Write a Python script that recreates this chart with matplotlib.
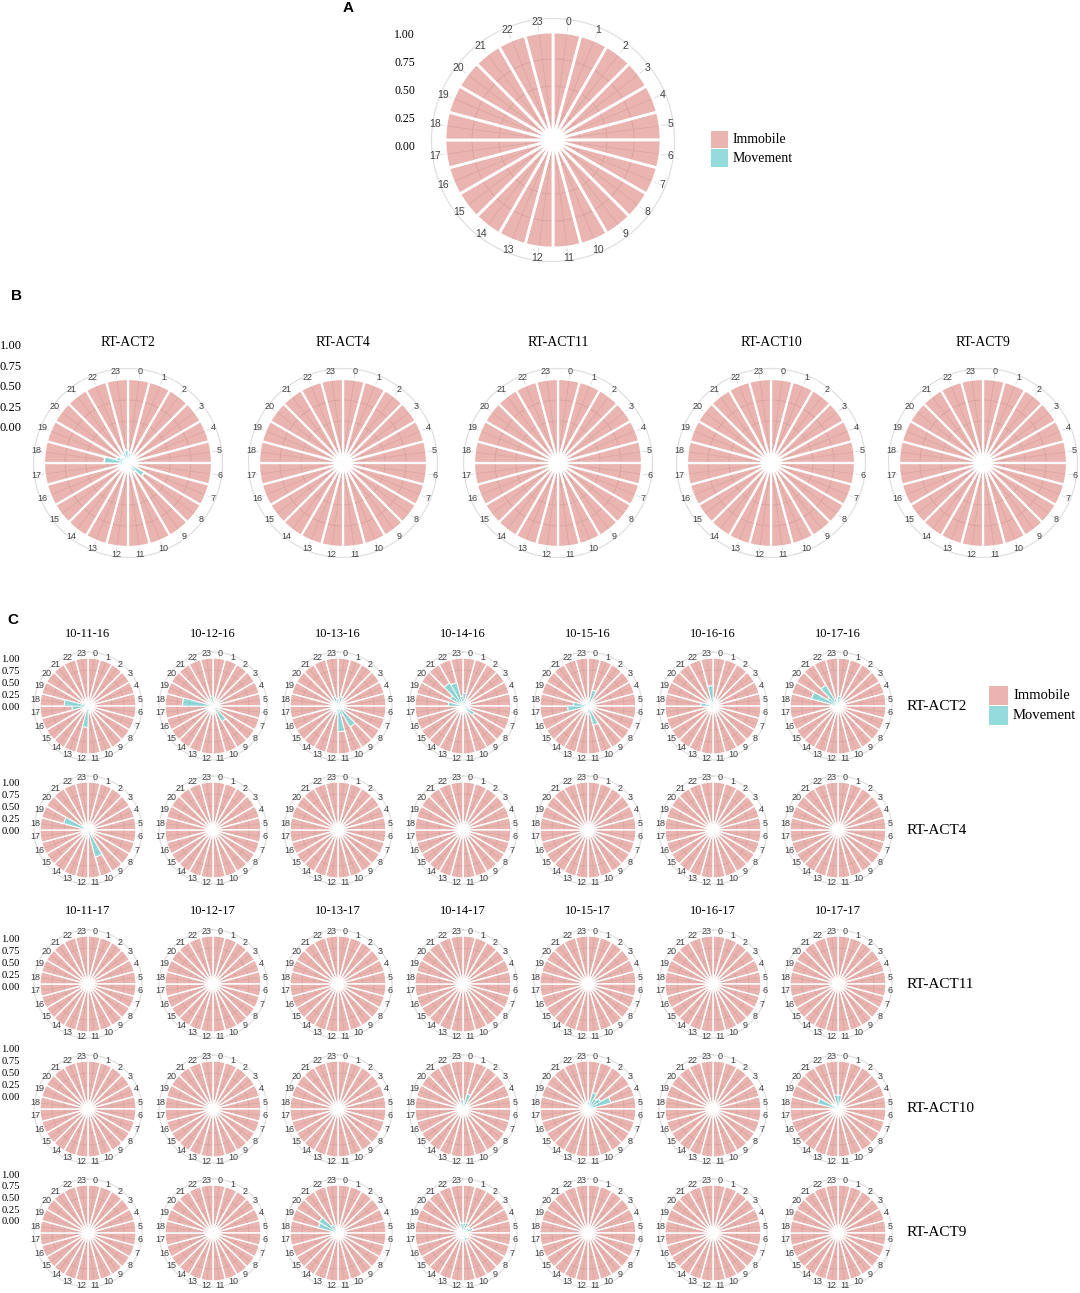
import numpy as np
import matplotlib
matplotlib.use("Agg")
import matplotlib.pyplot as plt
from matplotlib.patches import Rectangle

# ---- data: share of time in "Movement" per hour (Immobile = 1 - Movement)
hours = list(range(24))

all_move = [0.03, 0.02, 0.02, 0.01, 0.01, 0.01, 0.01, 0.02, 0.03, 0.03, 0.02, 0.02,
            0.02, 0.02, 0.02, 0.02, 0.02, 0.03, 0.04, 0.03, 0.03, 0.03, 0.03, 0.03]

b_names = ["RT-ACT2", "RT-ACT4", "RT-ACT11", "RT-ACT10", "RT-ACT9"]
b_act2 = [0.12, 0.08, 0.04, 0.03, 0.02, 0.02, 0.03, 0.05, 0.22, 0.12, 0.06, 0.05,
          0.04, 0.03, 0.03, 0.04, 0.05, 0.10, 0.28, 0.14, 0.10, 0.08, 0.12, 0.15]
b_act4 = [0.01, 0.01, 0.01, 0.00, 0.00, 0.00, 0.01, 0.01, 0.02, 0.06, 0.05, 0.02,
          0.01, 0.01, 0.01, 0.01, 0.01, 0.02, 0.03, 0.07, 0.05, 0.02, 0.01, 0.01]
b_act11 = [0.01, 0.00, 0.00, 0.00, 0.00, 0.00, 0.00, 0.00, 0.01, 0.01, 0.01, 0.00,
           0.00, 0.00, 0.00, 0.00, 0.00, 0.01, 0.01, 0.01, 0.01, 0.01, 0.01, 0.01]
b_act10 = [0.03, 0.03, 0.02, 0.02, 0.02, 0.01, 0.01, 0.01, 0.01, 0.01, 0.01, 0.01,
           0.01, 0.01, 0.01, 0.01, 0.01, 0.01, 0.02, 0.02, 0.02, 0.02, 0.02, 0.03]
b_act9 = [0.02, 0.02, 0.01, 0.01, 0.01, 0.01, 0.01, 0.01, 0.01, 0.02, 0.01, 0.01,
          0.01, 0.01, 0.01, 0.01, 0.01, 0.01, 0.02, 0.03, 0.03, 0.02, 0.02, 0.02]

dates_16 = ["10-11-16", "10-12-16", "10-13-16", "10-14-16", "10-15-16", "10-16-16", "10-17-16"]
dates_17 = ["10-11-17", "10-12-17", "10-13-17", "10-14-17", "10-15-17", "10-16-17", "10-17-17"]
c_rows = ["RT-ACT2", "RT-ACT4", "RT-ACT11", "RT-ACT10", "RT-ACT9"]

still = [0.00, 0.00, 0.00, 0.00, 0.00, 0.00, 0.00, 0.00, 0.00, 0.00, 0.00, 0.00,
         0.00, 0.00, 0.00, 0.00, 0.00, 0.00, 0.00, 0.00, 0.00, 0.00, 0.00, 0.00]

act2_16 = [
    [0.03, 0.02, 0.02, 0.01, 0.01, 0.02, 0.03, 0.05, 0.04, 0.03, 0.05, 0.12,
     0.44, 0.08, 0.04, 0.03, 0.08, 0.33, 0.49, 0.12, 0.05, 0.03, 0.03, 0.03],
    [0.12, 0.04, 0.02, 0.01, 0.01, 0.01, 0.02, 0.04, 0.12, 0.37, 0.04, 0.02,
     0.02, 0.02, 0.02, 0.02, 0.04, 0.08, 0.63, 0.10, 0.03, 0.03, 0.06, 0.20],
    [0.10, 0.20, 0.08, 0.03, 0.02, 0.02, 0.03, 0.05, 0.08, 0.50, 0.20, 0.53,
     0.12, 0.04, 0.02, 0.02, 0.03, 0.06, 0.06, 0.04, 0.06, 0.08, 0.20, 0.15],
    [0.26, 0.15, 0.12, 0.05, 0.05, 0.08, 0.10, 0.12, 0.27, 0.04, 0.03, 0.02,
     0.02, 0.02, 0.02, 0.02, 0.03, 0.05, 0.30, 0.10, 0.30, 0.55, 0.50, 0.20],
    [0.10, 0.34, 0.04, 0.02, 0.02, 0.02, 0.02, 0.03, 0.03, 0.05, 0.41, 0.15,
     0.04, 0.02, 0.02, 0.03, 0.06, 0.42, 0.30, 0.10, 0.04, 0.03, 0.03, 0.05],
    [0.04, 0.02, 0.01, 0.01, 0.01, 0.01, 0.01, 0.01, 0.01, 0.01, 0.02, 0.03,
     0.05, 0.02, 0.01, 0.01, 0.02, 0.06, 0.25, 0.04, 0.03, 0.03, 0.05, 0.42],
    [0.20, 0.04, 0.02, 0.01, 0.01, 0.01, 0.01, 0.01, 0.01, 0.01, 0.01, 0.01,
     0.01, 0.01, 0.01, 0.02, 0.03, 0.05, 0.12, 0.57, 0.25, 0.50, 0.15, 0.05],
]
act4_16 = [
    [0.02, 0.01, 0.01, 0.01, 0.01, 0.01, 0.01, 0.02, 0.04, 0.10, 0.58, 0.08,
     0.03, 0.02, 0.02, 0.02, 0.03, 0.04, 0.08, 0.52, 0.05, 0.03, 0.02, 0.02],
    still, still, still, still, still,
    [0.01, 0.00, 0.00, 0.00, 0.00, 0.00, 0.00, 0.00, 0.00, 0.00, 0.00, 0.00,
     0.00, 0.00, 0.00, 0.00, 0.01, 0.02, 0.03, 0.05, 0.02, 0.01, 0.00, 0.00],
]
act11_17 = [still, still, still, still, still, still, still]
act10_17 = [
    still, still, still,
    [0.10, 0.32, 0.04, 0.02, 0.01, 0.00, 0.00, 0.00, 0.00, 0.00, 0.00, 0.00,
     0.00, 0.00, 0.00, 0.00, 0.00, 0.00, 0.01, 0.01, 0.01, 0.02, 0.05, 0.20],
    [0.15, 0.35, 0.25, 0.30, 0.49, 0.04, 0.02, 0.01, 0.00, 0.00, 0.00, 0.00,
     0.00, 0.00, 0.00, 0.00, 0.00, 0.00, 0.00, 0.00, 0.00, 0.00, 0.01, 0.03],
    still,
    [0.28, 0.04, 0.02, 0.01, 0.00, 0.00, 0.00, 0.00, 0.00, 0.00, 0.00, 0.00,
     0.00, 0.00, 0.00, 0.00, 0.01, 0.03, 0.10, 0.43, 0.10, 0.04, 0.05, 0.29],
]
act9_17 = [
    still, still,
    [0.01, 0.00, 0.00, 0.00, 0.00, 0.00, 0.00, 0.00, 0.00, 0.00, 0.00, 0.00,
     0.00, 0.00, 0.00, 0.00, 0.02, 0.04, 0.10, 0.42, 0.45, 0.20, 0.03, 0.01],
    [0.20, 0.22, 0.12, 0.15, 0.21, 0.03, 0.02, 0.02, 0.03, 0.08, 0.17, 0.03,
     0.01, 0.00, 0.00, 0.00, 0.00, 0.00, 0.01, 0.01, 0.01, 0.02, 0.05, 0.20],
    still, still, still,
]

# ---- style
pink = (220/255, 130/255, 125/255, 0.6)
cyan = (80/255, 195/255, 195/255, 0.6)
serif = "Liberation Serif"
sans = "Liberation Sans"

W, H = 1080, 1293
fig = plt.figure(figsize=(W/100, H/100), dpi=100)


def rose(cx, cy, R, move, fs, lw):
    rmax = 1.125
    half = R*rmax
    ax = fig.add_axes([(cx-half)/W, 1-(cy+half)/H, 2*half/W, 2*half/H], projection="polar")
    ax.set_theta_zero_location("N")
    ax.set_theta_direction(-1)
    ax.set_ylim(0, rmax)
    ax.set_axis_off()
    t = np.linspace(0, 2*np.pi, 361)
    for r in [0.25, 0.5, 0.75]:
        ax.plot(t, np.full_like(t, r), color="#CFCFCF", lw=0.6, zorder=0)
    ax.plot(t, np.full_like(t, rmax), color="#E0E0E0", lw=0.9, zorder=0, clip_on=False)
    theta = np.deg2rad(np.array(hours)*15 + 7.5)
    for th in theta:
        ax.plot([th, th], [0, rmax], color="#D6D6D6", lw=0.5, zorder=0, clip_on=False)
    m = np.array(move)
    ax.bar(theta, 1 - m, bottom=m, width=np.deg2rad(15), color=pink, edgecolor="white",
           linewidth=lw, zorder=2)
    ax.bar(theta, m, width=np.deg2rad(15), color=cyan, edgecolor="white",
           linewidth=lw*0.45, zorder=3)
    for h, th in zip(hours, theta):
        ax.text(th, 1.1, str(h), ha="center", va="center", fontsize=fs,
                color="#444444", family=sans, zorder=4)
    return ax


def ylabels(xr, ytop, ybot, fs):
    for v, y in zip([1.0, 0.75, 0.5, 0.25, 0.0], np.linspace(ytop, ybot, 5)):
        fig.text(xr/W, 1-y/H, f"{v:.2f}", ha="right", va="center", fontsize=fs,
                 family=serif, color="black")


def legend(x, y, size, step, fs):
    # key boxes and labels, positions in pixels from the top-left corner
    for k, (lab, col) in enumerate([("Immobile", pink), ("Movement", cyan)]):
        top = y + k*step
        fig.add_artist(Rectangle((x/W, 1-(top+size)/H), size/W, size/H,
                                 transform=fig.transFigure, facecolor=col, edgecolor="none"))
        fig.text((x+size+5)/W, 1-(top+size/2)/H, lab, ha="left", va="center",
                 fontsize=fs, family=serif)


# ---- A
fig.text(348/W, 1-8/H, "A", ha="center", va="center", fontsize=11, weight="bold", family=sans)
rose(553, 140, 108, all_move, 7.5, 2.0)
ylabels(415, 35, 147, 8.5)
legend(711, 131, 17, 18.5, 10)

# ---- B
fig.text(17/W, 1-296/H, "B", ha="center", va="center", fontsize=11, weight="bold", family=sans)
b_moves = [b_act2, b_act4, b_act11, b_act10, b_act9]
b_cx = [128, 343, 558, 771, 983]
for name, mv, cx in zip(b_names, b_moves, b_cx):
    rose(cx, 463, 84, mv, 6.5, 1.6)
    fig.text(cx/W, 1-343/H, name, ha="center", va="center", fontsize=10, family=serif)
ylabels(22, 346, 428, 9)

# ---- C
fig.text(13/W, 1-620/H, "C", ha="center", va="center", fontsize=11, weight="bold", family=sans)
c_cx = [88, 213, 338, 463, 588, 713, 838]
c_cy = [706, 830, 984, 1109, 1233]
c_ylab = [(660, 708), (783, 832), (939, 987), (1050, 1098), (1175, 1222)]
c_data = [act2_16, act4_16, act11_17, act10_17, act9_17]
for i, (row, name, cy) in enumerate(zip(c_data, c_rows, c_cy)):
    for mv, cx in zip(row, c_cx):
        rose(cx, cy, 48, mv, 6.5, 1.0)
    fig.text(907/W, 1-cy/H, name, ha="left", va="center", fontsize=11, family=serif)
    ylabels(20, c_ylab[i][0], c_ylab[i][1], 7.6)
for d16, d17, cx in zip(dates_16, dates_17, c_cx):
    fig.text(cx/W, 1-634/H, d16, ha="center", va="center", fontsize=9, family=serif)
    fig.text(cx/W, 1-911/H, d17, ha="center", va="center", fontsize=9, family=serif)
legend(989, 686, 19, 20, 10.5)

fig.savefig("out.png", dpi=100)
